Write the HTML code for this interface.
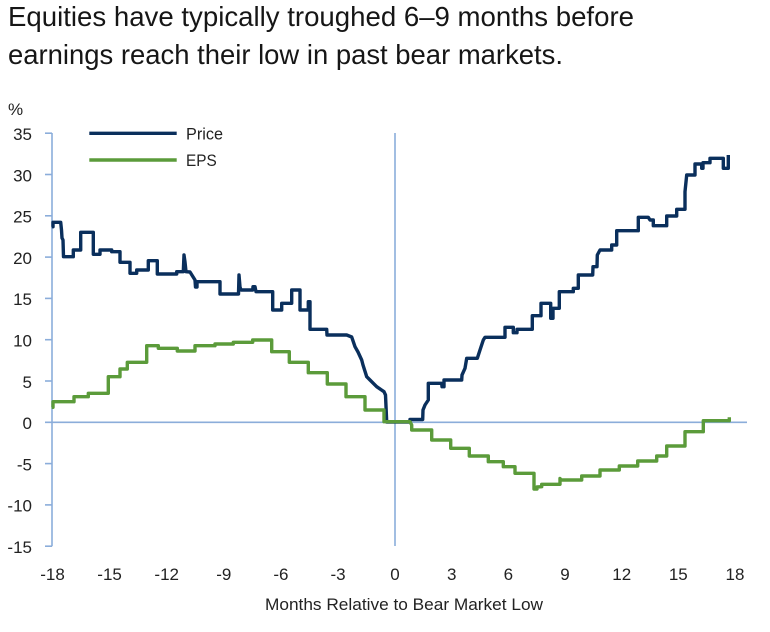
<!DOCTYPE html>
<html>
<head>
<meta charset="utf-8">
<style>
  html, body { margin:0; padding:0; background:#ffffff; }
  svg { display:block; }
  text { font-family: "Liberation Sans Narrow", "Liberation Sans", sans-serif; }
</style>
</head>
<body>
<svg width="770" height="632" viewBox="0 0 770 632" xmlns="http://www.w3.org/2000/svg">
  <rect x="0" y="0" width="770" height="632" fill="#ffffff"/>

  <!-- Title -->
  <text x="8" y="26" font-size="28" fill="#161616" textLength="626" lengthAdjust="spacingAndGlyphs">Equities have typically troughed 6–9 months before</text>
  <text x="8" y="64" font-size="28" fill="#161616" textLength="555" lengthAdjust="spacingAndGlyphs">earnings reach their low in past bear markets.</text>

  <!-- % unit -->
  <text x="8" y="115" font-size="17" fill="#222">%</text>

  <!-- Axes -->
  <g stroke="#8badda" stroke-width="1.6" fill="none">
    <line x1="52" y1="133" x2="52" y2="546.2"/>
    <line x1="45" y1="133.2" x2="52" y2="133.2"/>
    <line x1="45" y1="174.5" x2="52" y2="174.5"/>
    <line x1="45" y1="215.8" x2="52" y2="215.8"/>
    <line x1="45" y1="257.1" x2="52" y2="257.1"/>
    <line x1="45" y1="298.4" x2="52" y2="298.4"/>
    <line x1="45" y1="339.7" x2="52" y2="339.7"/>
    <line x1="45" y1="381" x2="52" y2="381"/>
    <line x1="45" y1="463.6" x2="52" y2="463.6"/>
    <line x1="45" y1="504.9" x2="52" y2="504.9"/>
    <line x1="45" y1="546.2" x2="52" y2="546.2"/>
    <line x1="45" y1="422.3" x2="747" y2="422.3"/>
    <line x1="395" y1="133" x2="395" y2="546"/>
  </g>

  <!-- Y tick labels -->
  <g font-size="17" fill="#222" text-anchor="end">
    <text x="32" y="140">35</text>
    <text x="32" y="181.3">30</text>
    <text x="32" y="222.6">25</text>
    <text x="32" y="263.9">20</text>
    <text x="32" y="305.2">15</text>
    <text x="32" y="346.5">10</text>
    <text x="32" y="387.8">5</text>
    <text x="32" y="429.1">0</text>
    <text x="32" y="470.4">-5</text>
    <text x="32" y="511.7">-10</text>
    <text x="32" y="553">-15</text>
  </g>

  <!-- X tick labels -->
  <g font-size="17" fill="#222" text-anchor="middle">
    <text x="52.5" y="580">-18</text>
    <text x="109.6" y="580">-15</text>
    <text x="166.7" y="580">-12</text>
    <text x="223.8" y="580">-9</text>
    <text x="280.9" y="580">-6</text>
    <text x="338" y="580">-3</text>
    <text x="395" y="580">0</text>
    <text x="451.7" y="580">3</text>
    <text x="508.4" y="580">6</text>
    <text x="565" y="580">9</text>
    <text x="621.7" y="580">12</text>
    <text x="678.3" y="580">15</text>
    <text x="735" y="580">18</text>
  </g>

  <!-- X axis title -->
  <text x="265" y="610" font-size="17" fill="#222" textLength="278" lengthAdjust="spacingAndGlyphs">Months Relative to Bear Market Low</text>

  <!-- Legend -->
  <line x1="89.3" y1="133.3" x2="176.7" y2="133.3" stroke="#0a2f5c" stroke-width="3.4"/>
  <text x="186" y="139.3" font-size="17" fill="#222" textLength="37" lengthAdjust="spacingAndGlyphs">Price</text>
  <line x1="89.3" y1="160" x2="176.7" y2="160" stroke="#5b9b3a" stroke-width="3.4"/>
  <text x="186" y="166" font-size="17" fill="#222" textLength="30.7" lengthAdjust="spacingAndGlyphs">EPS</text>

  <!-- Price series -->
  <polyline fill="none" stroke="#0a2f5c" stroke-width="3.4" stroke-linejoin="round" points="
    51.7,226.7 53,226.7 53,222.3 60.7,222.3 61.5,230 62,238 63,240 63.5,256.7 73.3,256.7 73.3,250 80.7,250 80.7,232.3 93.3,232.3 93.3,254.3 100,254.3 100,250 111.7,250 111.7,251.7 120,251.7 120,262.3 130,262.3 130,273.3 136.7,273.3 136.7,270 148.3,270 148.3,260.7 157.3,260.7 157.3,274 176.7,274 176.7,271.7 183.3,271.7 184,255 185,262 186,271.7 190,272 195,280 195.5,287 197,287 197,281.7 220,281.7 220,294 238.5,294 239,275 240,287 241,290 252.7,290 253,286.7 255,286.7 256,291.7 272.7,291.7 272.7,310 281.7,310 281.7,303.3 291.7,303.3 291.7,290 300,290 300,310 308.3,310 308.3,301.7 310,301.7 310,329.3 326.7,329.3 327,335 346.7,335 351.7,337 355,346.7 358,352 361.7,360 363,365 366.7,376.7 370,380 376.7,386.7 384,391.7 385.5,395 386.7,422 410,422 410,419.5 422.7,419.5 423,410 425,405 428.3,400 428.3,383.3 441.7,383.3 442,386.7 444,386.7 444,380 461.7,380 462,375 465,368.3 466.7,358.3 477.3,358.3 480,350 483.3,340 485,337.3 505,337.3 505,327.3 513.3,327.3 513.3,332.7 517,332.7 517,329.3 532.3,329.3 532.3,315.7 541,315.7 541,303.3 550.7,303.3 550.7,318.3 553,318.3 553,308.3 559.3,308.3 559.3,291.7 573.3,291.7 573.3,288.3 578.3,288.3 578.3,275 592.7,275 593,266.7 597,266.7 597.3,255 600,250 611.7,250 611.7,245 616.7,245 616.7,230.7 638.3,230.7 638.3,217.3 648.3,217.3 650,220 653.3,220 653.3,225.7 666.7,225.7 666.7,216 676.7,216 676.7,209.3 685,209.3 685,191.7 686.7,175 695,175 695,164 701.7,164 701.7,168.3 703,168.3 703,162.7 710,162.7 710,158.3 723.3,158.3 723.3,168.3 728.3,168.3 728.3,155"/>

  <!-- EPS series -->
  <polyline fill="none" stroke="#5b9b3a" stroke-width="3.4" stroke-linejoin="round" points="
    51.7,407.3 53,407.3 53,401.7 74,401.7 74,396.7 88.3,396.7 88.3,393.3 108.3,393.3 108.3,376.7 120,376.7 120,369 127.3,369 127.3,362.3 146.7,362.3 146.7,345.7 158.3,345.7 158.3,348.3 177.3,348.3 177.3,351 195,351 195,345.7 215,345.7 215,344 233.3,344 233.3,342.3 252.7,342.3 252.7,340 271.7,340 271.7,351.7 289.3,351.7 289.3,362.3 308.3,362.3 308.3,372.7 327.3,372.7 327.3,384 346,384 346,396.7 365,396.7 365,410 384,410 384,421.7 410,421.7 411.7,425 411.7,430 431.7,430 431.7,440 450.7,440 450.7,448.3 469.3,448.3 469.3,456 488.3,456 488.3,461.7 503.3,461.7 503.3,466.7 515,466.7 515,473.3 534,473.3 534,489 537,489 537,487 541.7,486.7 541.7,484.3 560,484.3 560,478.5 561,480 581.7,480 581.7,476 600,476 600,470 619.3,470 619.3,466 637.7,466 637.7,461 656.7,461 656.7,456 666.7,456 666.7,446 685,446 685,431.7 703.3,431.7 703.3,420.7 729.3,420.7 729.3,417.3"/>
</svg>
</body>
</html>
